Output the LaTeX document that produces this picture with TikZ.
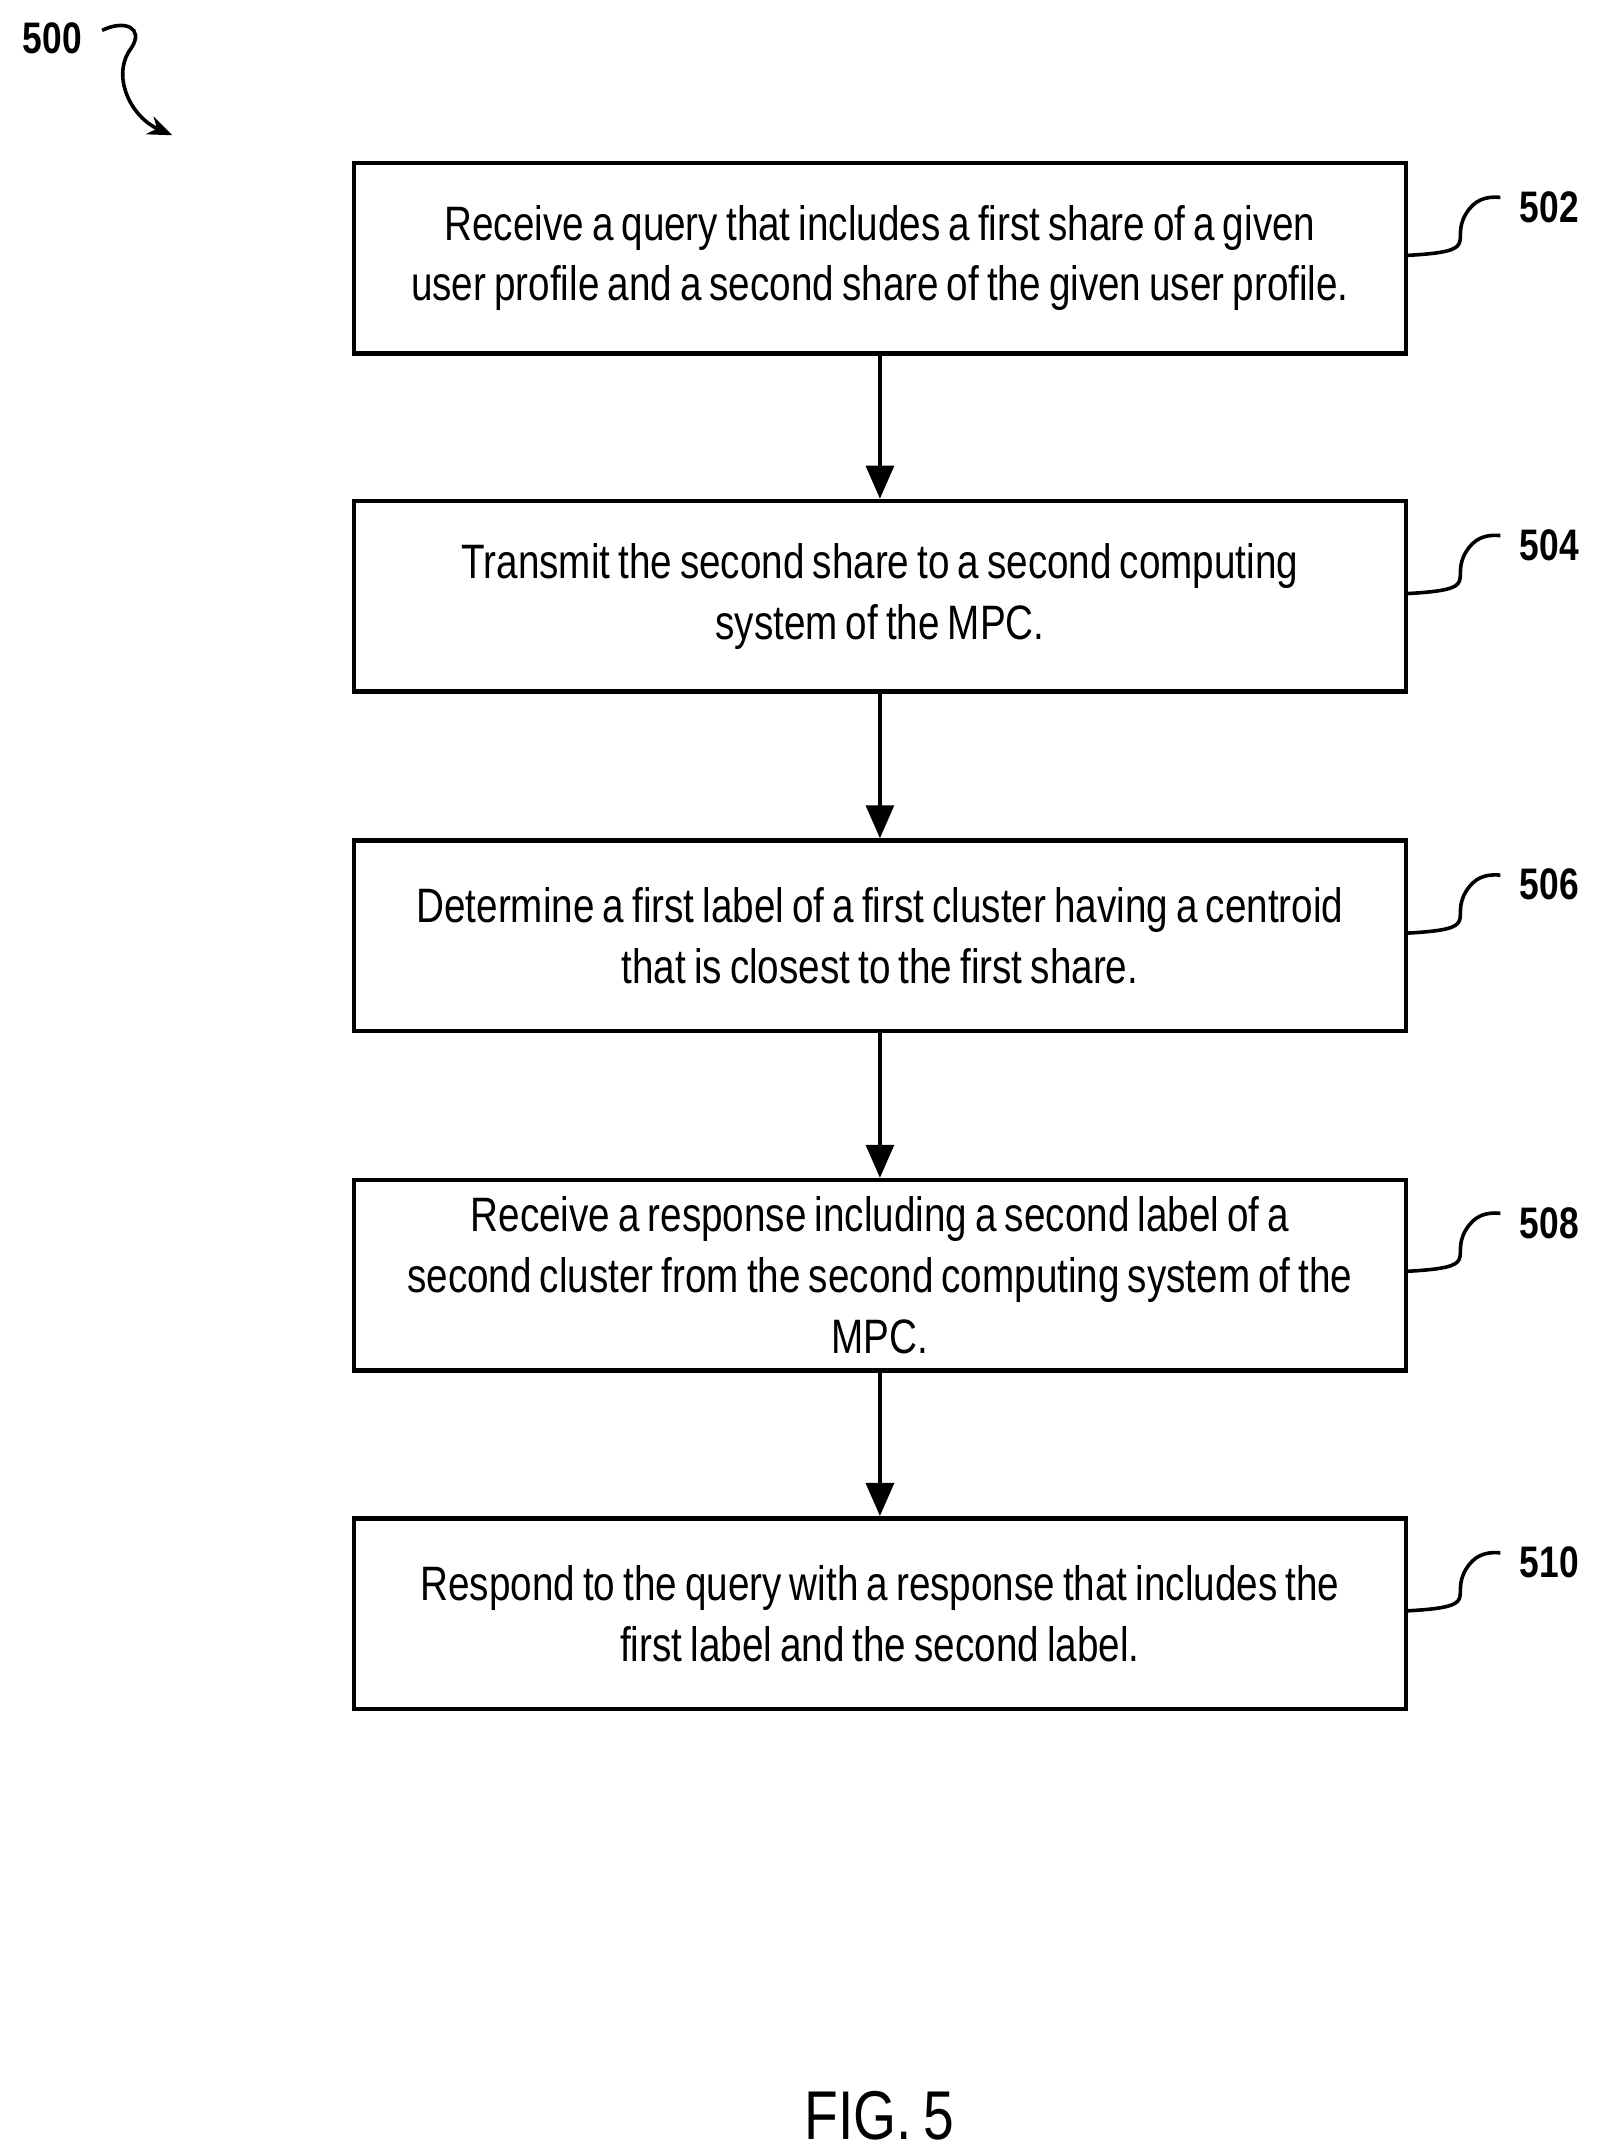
\documentclass[tikz,border=0pt]{standalone}
\usepackage{fontspec}
\setmainfont{Liberation Sans}[FakeStretch=0.80,WordSpace=0.75]
\usetikzlibrary{arrows.meta}
\begin{document}
\begin{tikzpicture}[x=0.5pt,y=-0.5pt,
  box/.style={draw,line width=1.6pt,minimum width=381pt,minimum height=69pt,align=center,inner sep=0pt,font=\fontsize{17.5}{22}\selectfont},
  arr/.style={line width=1.6pt,-{Triangle[length=12pt,width=10pt]}},
  ref/.style={font=\bfseries\fontsize{16}{18}\selectfont,anchor=west},
  sq/.style={line width=1.3pt}]
\useasboundingbox (0,0) rectangle (1160,1562);
\node[box] (b502) at (637.5,187) {Receive a query that includes a first share of a given\\user profile and a second share of the given user profile.};
\node[box] (b504) at (637.5,432) {Transmit the second share to a second computing\\system of the MPC.};
\node[box] (b506) at (637.5,678) {Determine a first label of a first cluster having a centroid\\that is closest to the first share.};
\node[box] (b508) at (637.5,924) {Receive a response including a second label of a\\second cluster from the second computing system of the\\MPC.};
\node[box] (b510) at (637.5,1169) {Respond to the query with a response that includes the\\first label and the second label.};
\foreach \a/\b in {b502/b504,b504/b506,b506/b508,b508/b510}
  \draw[arr] (\a.south) -- (\b.north);
\foreach \n/\y in {502/150,504/395,506/641,508/886,510/1132}{
  \node[ref] (l\n) at (1094,\y) {\n};
  \draw[sq] (b\n.east |- 0,\y+35) .. controls (1075,\y+32) and (1050,\y+25) .. (1062,\y+5) .. controls (1068,\y-5) and (1076,\y-8) .. (1087,\y-7);
}
\node[font=\bfseries\fontsize{16}{18}\selectfont] (l500) at (38,28) {500};
\coordinate (t500) at (125,98);
\draw[sq,-{Stealth[length=9pt,width=7pt]}] (74,22) .. controls (90,14) and (105,20) .. (95,35) .. controls (80,55) and (95,85) .. (t500);
\node[font=\fontsize{25}{28}\selectfont] (fig) at (637,1533) {FIG. 5};
\end{tikzpicture}
\end{document}
